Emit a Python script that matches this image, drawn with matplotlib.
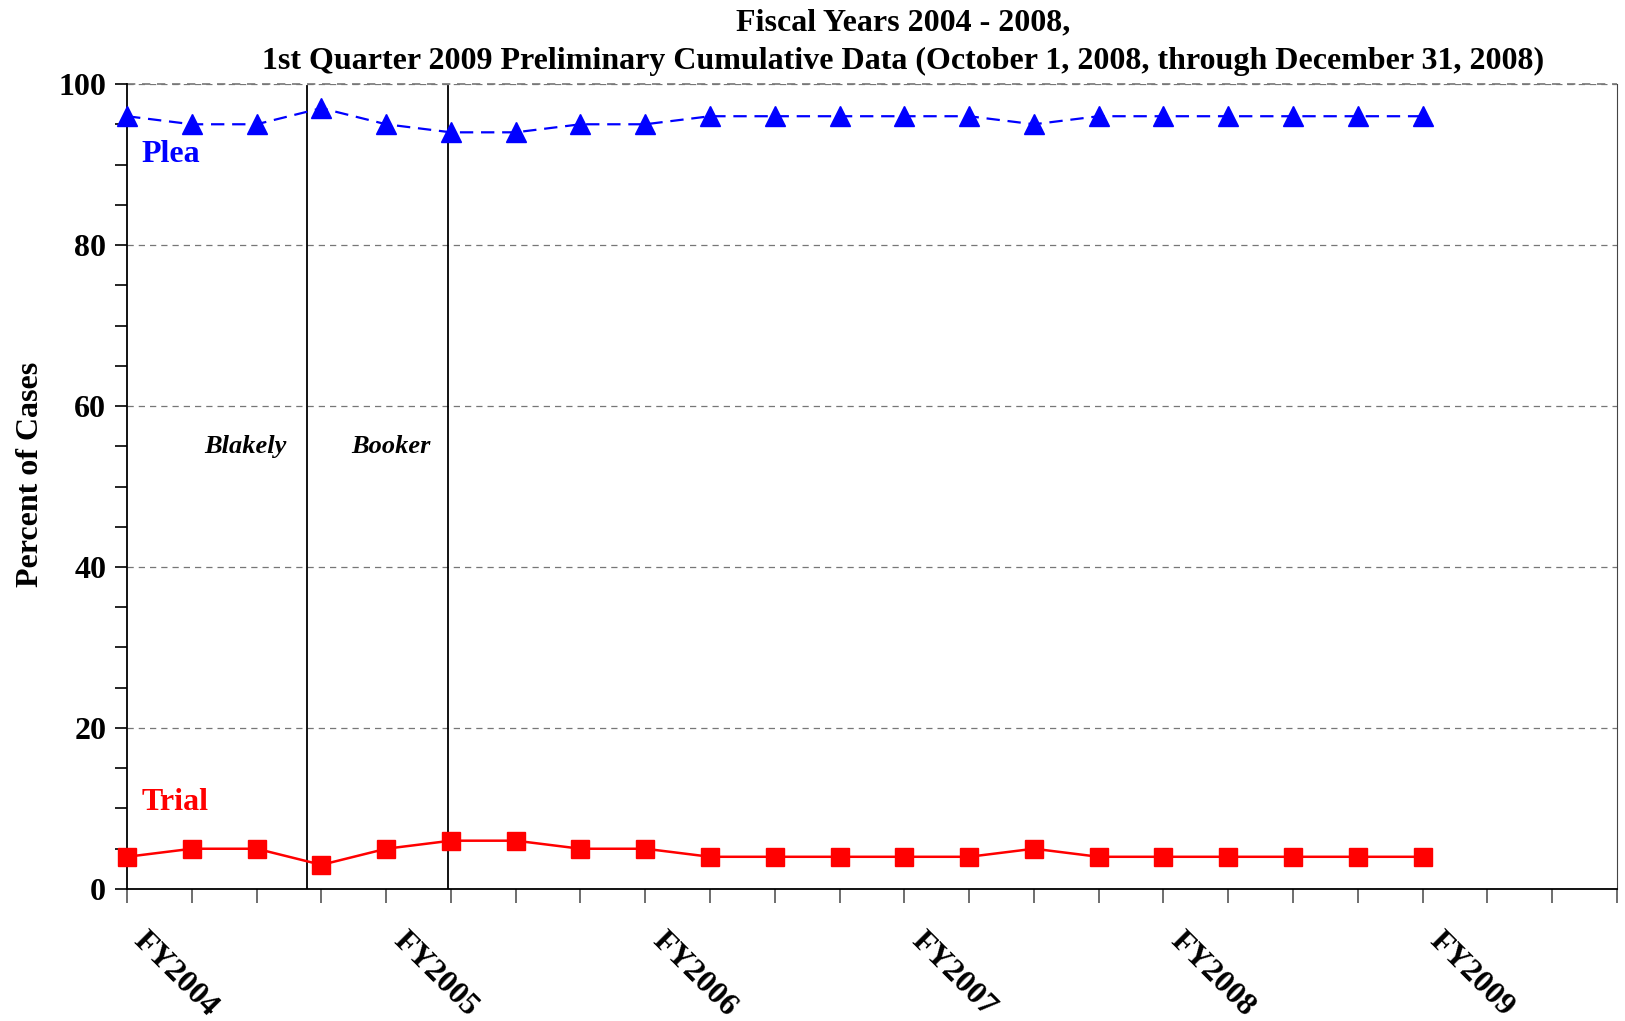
import matplotlib.pyplot as plt
from matplotlib.ticker import MultipleLocator

# quarterly data, FY2004 Q1 .. FY2009 Q1
plea = [96, 95, 95, 97, 95, 94, 94, 95, 95, 96, 96, 96, 96, 96, 95, 96, 96, 96, 96, 96, 96]
trial = [4, 5, 5, 3, 5, 6, 6, 5, 5, 4, 4, 4, 4, 4, 5, 4, 4, 4, 4, 4, 4]
n_quarters = 24
year_labels = ['FY2004', 'FY2005', 'FY2006', 'FY2007', 'FY2008', 'FY2009']
events = [('Blakely', 2.78), ('Booker', 4.95)]

plt.rcParams['font.family'] = 'Liberation Serif'
plt.rcParams['font.weight'] = 'bold'
plt.rcParams['axes.labelweight'] = 'bold'

fig = plt.figure(figsize=(16.25, 10.21), dpi=100)
ax = fig.add_axes([0.0782, 0.1293, 0.9168, 0.7884])

x = list(range(len(plea)))
ax.plot(x, plea, color='#0000ff', lw=1.6, dashes=(6, 3.5), marker='^',
        markersize=14, clip_on=False, zorder=5)
ax.plot(x, trial, color='#ff0000', lw=1.8, marker='s',
        markersize=12.5, clip_on=False, zorder=5)

for name, xpos in events:
    ax.axvline(xpos, ymax=0.997, color='black', lw=1.3, zorder=4)
ax.text(2.46, 55, 'Blakely', ha='right', va='center', fontsize=19, style='italic')
ax.text(4.08, 55, 'Booker', ha='center', va='center', fontsize=19, style='italic')

ax.text(0.22, 91.2, 'Plea', color='#0000ff', fontsize=23, va='center')
ax.text(0.22, 10.8, 'Trial', color='#ff0000', fontsize=23, va='center')

ax.set_xlim(0, n_quarters - 1)
ax.set_ylim(0, 100)
ax.yaxis.set_major_locator(MultipleLocator(20))
ax.yaxis.set_minor_locator(MultipleLocator(5))
ax.set_xticks(range(n_quarters))
ax.set_xticklabels([])
ax.tick_params(axis='y', which='both', direction='out', length=9, width=1.2,
               labelsize=23, pad=6)
ax.tick_params(axis='x', direction='out', length=10, width=1.2, color='#555555')

for i, lab in enumerate(year_labels):
    ax.text(i * 4 + 0.33, -4.6, lab, rotation=-45, ha='left', va='top',
            rotation_mode='anchor', fontsize=23)

ax.grid(axis='y', which='major', ls=(0, (5, 4)), color='#777777', lw=0.9)
ax.set_axisbelow(True)
ax.spines['top'].set_visible(False)
ax.spines['right'].set_color('#444444')
ax.spines['left'].set_linewidth(1.3)
ax.spines['bottom'].set_linewidth(1.3)
ax.axhline(100, ls=(0, (5, 4)), color='#777777', lw=1.2, clip_on=False)

ax.set_ylabel('Percent of Cases', fontsize=23)
ax.yaxis.set_label_coords(-0.055, 0.515)

fig.text(0.556, 0.978, 'Fiscal Years 2004 - 2008,', ha='center', va='center', fontsize=23)
fig.text(0.556, 0.940, '1st Quarter 2009 Preliminary Cumulative Data (October 1, 2008, through December 31, 2008)',
         ha='center', va='center', fontsize=23)

fig.savefig('out.png', dpi=100)
